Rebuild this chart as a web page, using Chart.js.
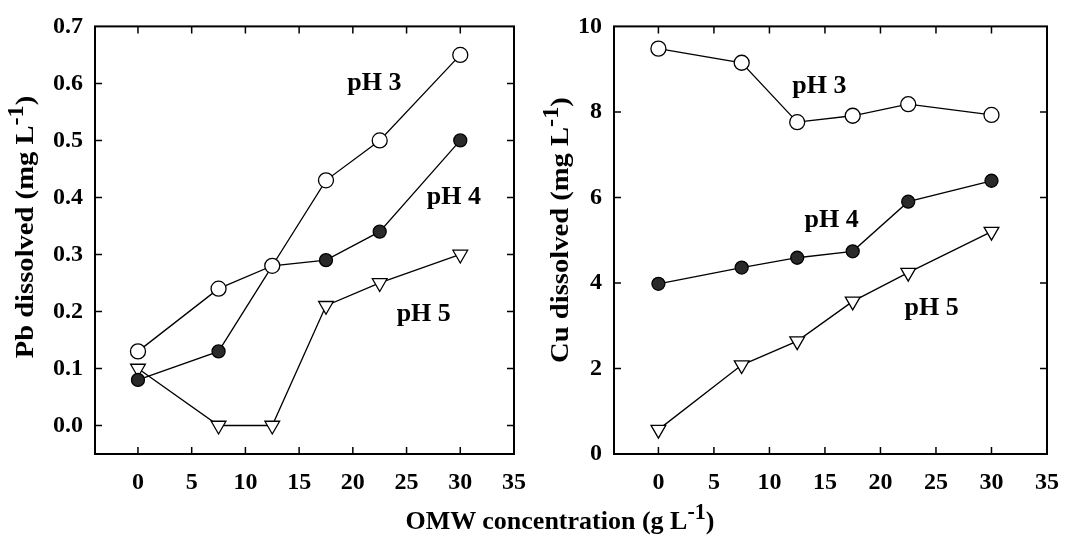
<!DOCTYPE html>
<html>
<head>
<meta charset="utf-8">
<script src="https://cdn.jsdelivr.net/npm/chart.js@4.4.0/dist/chart.umd.min.js"></script>
<style>
  body { margin: 0; background: #fff; width: 1073px; height: 545px; overflow: hidden; position: relative;
         font-family: "Liberation Serif", "Times New Roman", serif; font-weight: bold; color: #000; }
  canvas { position: absolute; top: 0; }
  #pbChart { left: 0; }
  #cuChart { left: 535px; }
  .title { position: absolute; font-size: 26px; white-space: nowrap; text-align: center; line-height: 30px; }
  .title sup { font-size: 0.85em; vertical-align: 0.45em; line-height: 0; }
  .ytitle { width: 400px; height: 30px; transform: rotate(-90deg) scaleX(1.1); }
</style>
</head>
<body>
<canvas id="pbChart" width="540" height="545"></canvas>
<canvas id="cuChart" width="538" height="545"></canvas>
<div class="title ytitle" style="left:-175px; top:212px;">Pb dissolved (mg L<sup>-1</sup>)</div>
<div class="title ytitle" style="left:360px; top:215px;">Cu dissolved (mg L<sup>-1</sup>)</div>
<div class="title" style="left:360px; top:506px; width:400px;">OMW concentration (g L<sup>-1</sup>)</div>
<script>
// OMW concentration (g/L)
const omw = [0, 7.5, 12.5, 17.5, 22.5, 30];

// Pb dissolved (mg/L)
const pbPH3 = [0.13, 0.24, 0.28, 0.43, 0.50, 0.65];
const pbPH4 = [0.08, 0.13, 0.28, 0.29, 0.34, 0.50];
const pbPH5 = [0.10, 0.00, 0.00, 0.21, 0.25, 0.30];

// Cu dissolved (mg/L)
const cuPH3 = [9.48, 9.15, 7.76, 7.91, 8.18, 7.93];
const cuPH4 = [3.98, 4.36, 4.59, 4.74, 5.90, 6.39];
const cuPH5 = [0.57, 2.08, 2.64, 3.57, 4.24, 5.20];

const xTicks = [0, 5, 10, 15, 20, 25, 30, 35];
const pbTicks = [0, 0.1, 0.2, 0.3, 0.4, 0.5, 0.6, 0.7];
const cuTicks = [0, 2, 4, 6, 8, 10];

const pbLabels = [
	{ text: "pH 3", x: 22, y: 0.6 },
	{ text: "pH 4", x: 29.4, y: 0.4 },
	{ text: "pH 5", x: 26.6, y: 0.195 },
];
const cuLabels = [
	{ text: "pH 3", x: 14.5, y: 8.6 },
	{ text: "pH 4", x: 15.6, y: 5.47 },
	{ text: "pH 5", x: 24.6, y: 3.41 },
];

const FONT = '"Liberation Serif", "Times New Roman", serif';

function pts(ys) {
	return omw.map((x, i) => ({ x: x, y: ys[i] }));
}

// box frame with inward ticks on all four sides, plus the pH labels
const framePlugin = {
	id: "frame",
	beforeDatasetsDraw(chart) {
		const ctx = chart.ctx;
		const a = chart.chartArea;
		const x = chart.scales.x;
		const y = chart.scales.y;
		ctx.save();
		ctx.strokeStyle = "#000";
		ctx.lineWidth = 1.5;
		ctx.beginPath();
		x.ticks.forEach(function (t) {
			const px = x.getPixelForValue(t.value);
			if (px > a.right - 2 || px < a.left + 2) return;
			ctx.moveTo(px, a.bottom);
			ctx.lineTo(px, a.bottom - 7);
			ctx.moveTo(px, a.top);
			ctx.lineTo(px, a.top + 7);
		});
		y.ticks.forEach(function (t) {
			const py = y.getPixelForValue(t.value);
			if (py > a.bottom - 2 || py < a.top + 2) return;
			ctx.moveTo(a.left, py);
			ctx.lineTo(a.left + 7, py);
			ctx.moveTo(a.right, py);
			ctx.lineTo(a.right - 7, py);
		});
		ctx.stroke();
		ctx.lineWidth = 2;
		ctx.strokeRect(a.left, a.top, a.right - a.left, a.bottom - a.top);
		ctx.restore();
	},
	afterDraw(chart, args, opts) {
		const ctx = chart.ctx;
		ctx.save();
		ctx.fillStyle = "#000";
		ctx.font = "bold 26px " + FONT;
		ctx.textAlign = "center";
		ctx.textBaseline = "middle";
		(opts.labels || []).forEach(function (l) {
			ctx.fillText(l.text, chart.scales.x.getPixelForValue(l.x), chart.scales.y.getPixelForValue(l.y));
		});
		ctx.restore();
	},
};

function makeChart(id, sets, yMin, yMax, yTicks, yDigits, labels, pad, yWidth) {
	const ctx = document.getElementById(id).getContext("2d");
	return new Chart(ctx, {
		type: "line",
		data: {
			datasets: [
				{
					label: "pH 3",
					data: pts(sets[0]),
					borderColor: "#000",
					borderWidth: 1.3,
					pointStyle: "circle",
					pointRadius: 7.5,
					pointBackgroundColor: "#fff",
					pointBorderColor: "#000",
					pointBorderWidth: 1.3,
				},
				{
					label: "pH 4",
					data: pts(sets[1]),
					borderColor: "#000",
					borderWidth: 1.3,
					pointStyle: "circle",
					pointRadius: 6.5,
					pointBackgroundColor: "#2a2a2a",
					pointBorderColor: "#000",
					pointBorderWidth: 1.3,
				},
				{
					label: "pH 5",
					data: pts(sets[2]),
					borderColor: "#000",
					borderWidth: 1.3,
					pointStyle: "triangle",
					pointRotation: 180,
					pointRadius: 8.5,
					pointBackgroundColor: "#fff",
					pointBorderColor: "#000",
					pointBorderWidth: 1.3,
				},
			],
		},
		options: {
			responsive: false,
			animation: false,
			layout: { padding: pad },
			plugins: {
				legend: { display: false },
				tooltip: { enabled: false },
				frame: { labels: labels },
			},
			elements: { line: { tension: 0 } },
			scales: {
				x: {
					type: "linear",
					min: -4,
					max: 35,
					grid: { display: false, drawTicks: false },
					border: { display: false },
					afterBuildTicks: function (s) {
						s.ticks = xTicks.map((v) => ({ value: v }));
					},
					afterFit: function (s) {
						s.height = 91;
					},
					ticks: {
						color: "#000",
						padding: 14,
						maxRotation: 0,
						font: { family: FONT, size: 24, weight: "bold" },
					},
				},
				y: {
					type: "linear",
					min: yMin,
					max: yMax,
					grid: { display: false, drawTicks: false },
					border: { display: false },
					afterBuildTicks: function (s) {
						s.ticks = yTicks.map((v) => ({ value: v }));
					},
					afterFit: function (s) {
						s.width = yWidth;
					},
					ticks: {
						color: "#000",
						padding: 12,
						font: { family: FONT, size: 24, weight: "bold" },
						callback: function (v) {
							return v.toFixed(yDigits);
						},
					},
				},
			},
		},
		plugins: [framePlugin],
	});
}

document.addEventListener("DOMContentLoaded", function () {
	makeChart("pbChart", [pbPH3, pbPH4, pbPH5], -0.05, 0.7, pbTicks, 1, pbLabels,
		{ top: 15, right: 15, left: 0, bottom: 0 }, 95);
	makeChart("cuChart", [cuPH3, cuPH4, cuPH5], 0, 10, cuTicks, 0, cuLabels,
		{ top: 17, right: 22, left: 0, bottom: 0 }, 79);
});
</script>
</body>
</html>
